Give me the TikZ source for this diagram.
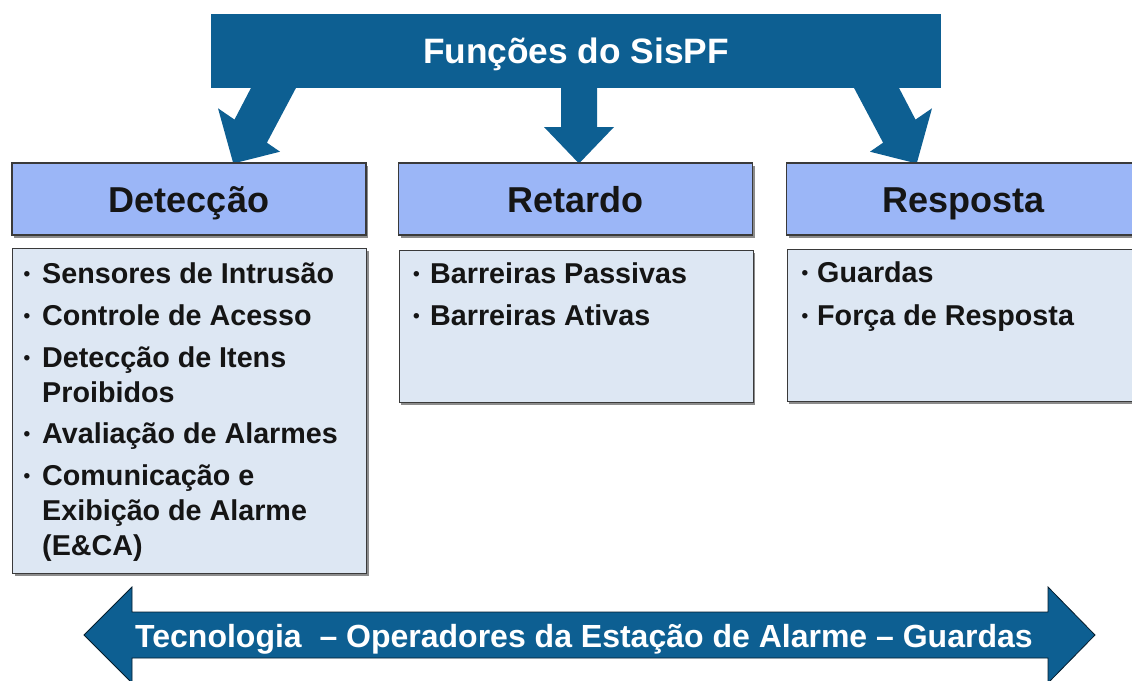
\documentclass[tikz,border=0pt]{standalone}
\usepackage{fontspec}
\setmainfont{Liberation Sans}
\usetikzlibrary{shadows}
\definecolor{sysblue}{HTML}{0D5F92}
\definecolor{headfill}{HTML}{9BB6F7}
\definecolor{bodyfill}{HTML}{DDE7F3}
\definecolor{edgegray}{HTML}{3A3A3A}
\definecolor{inktext}{HTML}{151515}
\begin{document}
\begin{tikzpicture}[x=1pt,y=-1pt,
  boxshadow/.style={drop shadow={shadow xshift=2pt,shadow yshift=-2.5pt,fill=black,opacity=0.45}},
  hdrbox/.style={draw=edgegray,line width=1.3pt,fill=headfill,boxshadow,
    minimum width=354pt,minimum height=72pt,inner sep=0pt,
    text height=26pt,text depth=0pt,text=inktext,
    font=\fontsize{36}{43}\selectfont\bfseries},
  bodybox/.style={draw=edgegray,line width=1.3pt,fill=bodyfill,boxshadow,
    minimum width=354pt,inner sep=0pt,anchor=north west},
  itemtext/.style={anchor=base west,inner sep=0pt,text=inktext,
    font=\fontsize{28.7}{34}\selectfont\bfseries},
  bul/.style={anchor=base,inner sep=0pt,text=inktext,yshift=2.5pt,
    font=\fontsize{19}{23}\selectfont\bfseries},
  bluearrow/.style={fill=sysblue,draw=none},
  whitetext/.style={text=white,inner sep=0pt}
]
\path[use as bounding box,clip] (0,0) rectangle (1132,680);
\fill[white] (0,0) rectangle (1132,680);

% top banner
\node[fill=sysblue,minimum width=730pt,minimum height=74pt,inner sep=0pt,
  text=white,text height=25pt,text depth=0pt,
  font=\fontsize{35.3}{42}\selectfont\bfseries] (banner) at (576,51) {Funções do SisPF};

% arrows from banner down to the three functions
\path[bluearrow] (252,86) -- (234.5,119.6) -- (218,108.3) -- (233.3,163.5)
  -- (280,151.7) -- (266.9,142.7) -- (297,86) -- cycle;
\path[bluearrow] (561,86) -- (561,127) -- (544,127) -- (579,163.5)
  -- (614,127) -- (597,127) -- (597,86) -- cycle;
\path[bluearrow] (898,86) -- (915.5,119.6) -- (932,108.3) -- (916.7,163.5)
  -- (870,151.7) -- (883.1,142.7) -- (853,86) -- cycle;

% headers
\node[hdrbox] (det) at (189,199) {Detecção};
\node[hdrbox] (ret) at (575.5,199) {Retardo};
\node[hdrbox] (resp) at (963.5,199) {Resposta};

% bodies
\node[bodybox,minimum height=325pt] (detbody) at (12,248) {};
\node[bodybox,minimum height=152pt] (retbody) at (398.5,249.5) {};
\node[bodybox,minimum height=152pt] (respbody) at (786.5,249) {};

% Deteccao list
\node[bul] (b1) at (27,283) {•};
\node[itemtext] (d1) at (42,283) {Sensores de Intrusão};
\node[bul] (b2) at (27,325) {•};
\node[itemtext] (d2) at (42,325) {Controle de Acesso};
\node[bul] (b3) at (27,367) {•};
\node[itemtext] (d3) at (42,367) {Detecção de Itens};
\node[itemtext] (d3b) at (42,402) {Proibidos};
\node[bul] (b4) at (27,443) {•};
\node[itemtext] (d4) at (42,443) {Avaliação de Alarmes};
\node[bul] (b5) at (27,485) {•};
\node[itemtext] (d5) at (42,485) {Comunicação e};
\node[itemtext] (d5b) at (42,520) {Exibição de Alarme};
\node[itemtext] (d5c) at (42,555) {(E\&CA)};

% Retardo list
\node[bul] (rb1) at (416.5,283) {•};
\node[itemtext] (r1) at (430,283) {Barreiras Passivas};
\node[bul] (rb2) at (416.5,325) {•};
\node[itemtext] (r2) at (430,325) {Barreiras Ativas};

% Resposta list
\node[bul] (sb1) at (805,282) {•};
\node[itemtext] (s1) at (817,282) {Guardas};
\node[bul] (sb2) at (805,325) {•};
\node[itemtext] (s2) at (817,325) {Força de Resposta};

% bottom double arrow
\path[fill=sysblue,draw=black!70!sysblue,line width=0.8pt]
  (84,635) -- (132,587) -- (132,612) -- (1048,612) -- (1048,587) -- (1095,635)
  -- (1048,683) -- (1048,658) -- (132,658) -- (132,683) -- cycle;
\node[whitetext,anchor=base west,font=\fontsize{32}{38}\selectfont\bfseries] (band)
  at (135,647) {Tecnologia~ – Operadores da Estação de Alarme – Guardas};
\end{tikzpicture}
\end{document}
